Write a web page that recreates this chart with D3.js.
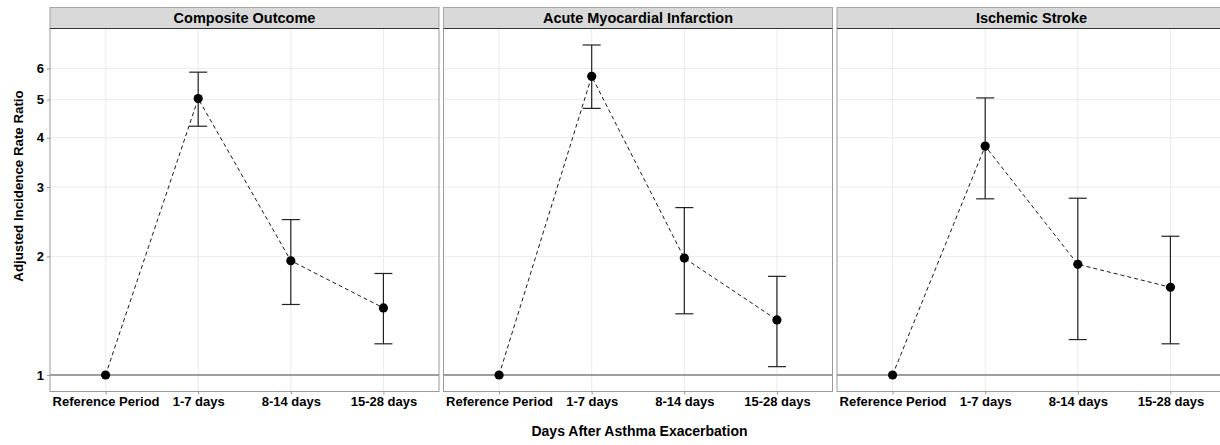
<!DOCTYPE html>
<html>
<head>
<meta charset="utf-8">
<script src="https://cdn.jsdelivr.net/npm/d3@7"></script>
<style>
  body { margin: 0; background: #fff; }
  text { font-family: 'Liberation Sans', Arial, sans-serif; font-weight: bold; fill: #000; }
</style>
</head>
<body>
<div id="chart"></div>
<script>
var categories = ['Reference Period', '1-7 days', '8-14 days', '15-28 days'];
var outcomes = ['Composite Outcome', 'Acute Myocardial Infarction', 'Ischemic Stroke'];

// rate ratios and 95% CI per outcome (reference period has no interval)
var compositeIRR = [1, 5.03, 1.95, 1.48];
var compositeLower = [null, 4.28, 1.51, 1.20];
var compositeUpper = [null, 5.87, 2.48, 1.81];

var amiIRR = [1, 5.73, 1.98, 1.38];
var amiLower = [null, 4.75, 1.43, 1.05];
var amiUpper = [null, 6.88, 2.66, 1.78];

var strokeIRR = [1, 3.81, 1.91, 1.67];
var strokeLower = [null, 2.80, 1.23, 1.20];
var strokeUpper = [null, 5.05, 2.81, 2.25];

var yTicks = [1, 2, 3, 4, 5, 6];

function buildPanel(irr, lower, upper) {
    return categories.map(function(c, i) {
        return { cat: c, irr: irr[i], lo: lower[i], hi: upper[i] };
    });
}

var panels = [
    buildPanel(compositeIRR, compositeLower, compositeUpper),
    buildPanel(amiIRR, amiLower, amiUpper),
    buildPanel(strokeIRR, strokeLower, strokeUpper)
];

var width = 1220, height = 445;
var panelLeft = 50, panelW = 389, panelGap = 4.5;
var stripTop = 7.5, panelTop = 28.5, panelBottom = 391.5;

var svg = d3.select('#chart').append('svg')
    .attr('width', width)
    .attr('height', height);

// shared log y scale, 5% expansion on the log range like ggplot
var allVals = [];
panels.forEach(function(p) {
    p.forEach(function(d) {
        allVals.push(d.irr);
        if (d.lo != null) allVals.push(d.lo, d.hi);
    });
});
var lmin = Math.log(d3.min(allVals)), lmax = Math.log(d3.max(allVals));
var pad = (lmax - lmin) * 0.05;
var y = d3.scaleLog()
    .domain([Math.exp(lmin - pad), Math.exp(lmax + pad)])
    .range([panelBottom, panelTop]);

var x = d3.scalePoint()
    .domain(categories)
    .range([0, panelW])
    .padding(0.6);

var line = d3.line()
    .x(function(d) { return x(d.cat); })
    .y(function(d) { return y(d.irr); });

panels.forEach(function(data, pi) {
    var x0 = panelLeft + pi * (panelW + panelGap);
    var g = svg.append('g').attr('transform', 'translate(' + x0 + ',0)');

    g.append('rect')
        .attr('x', 0).attr('y', panelTop)
        .attr('width', panelW).attr('height', panelBottom - panelTop)
        .attr('fill', '#fff');

    // grid
    g.selectAll('.hgrid').data(yTicks).enter().append('line')
        .attr('x1', 0).attr('x2', panelW)
        .attr('y1', function(d) { return y(d); })
        .attr('y2', function(d) { return y(d); })
        .attr('stroke', '#ebebeb').attr('stroke-width', 1);
    g.selectAll('.vgrid').data(categories).enter().append('line')
        .attr('x1', function(d) { return x(d); })
        .attr('x2', function(d) { return x(d); })
        .attr('y1', panelTop).attr('y2', panelBottom)
        .attr('stroke', '#ebebeb').attr('stroke-width', 1);

    // reference line at 1
    g.append('line')
        .attr('x1', 0).attr('x2', panelW)
        .attr('y1', y(1)).attr('y2', y(1))
        .attr('stroke', '#808080').attr('stroke-width', 1.6);

    // dashed connecting line
    g.append('path')
        .datum(data)
        .attr('d', line)
        .attr('fill', 'none')
        .attr('stroke', '#000')
        .attr('stroke-width', 0.9)
        .attr('stroke-dasharray', '4,3');

    // error bars
    var eb = g.selectAll('.eb').data(data.filter(function(d) { return d.lo != null; }))
        .enter().append('g');
    eb.append('line')
        .attr('x1', function(d) { return x(d.cat); })
        .attr('x2', function(d) { return x(d.cat); })
        .attr('y1', function(d) { return y(d.lo); })
        .attr('y2', function(d) { return y(d.hi); });
    eb.append('line')
        .attr('x1', function(d) { return x(d.cat) - 9; })
        .attr('x2', function(d) { return x(d.cat) + 9; })
        .attr('y1', function(d) { return y(d.lo); })
        .attr('y2', function(d) { return y(d.lo); });
    eb.append('line')
        .attr('x1', function(d) { return x(d.cat) - 9; })
        .attr('x2', function(d) { return x(d.cat) + 9; })
        .attr('y1', function(d) { return y(d.hi); })
        .attr('y2', function(d) { return y(d.hi); });
    eb.selectAll('line').attr('stroke', '#222').attr('stroke-width', 1.2);

    // points
    g.selectAll('.pt').data(data).enter().append('circle')
        .attr('cx', function(d) { return x(d.cat); })
        .attr('cy', function(d) { return y(d.irr); })
        .attr('r', 4.6)
        .attr('fill', '#000');

    // panel border
    g.append('rect')
        .attr('x', 0).attr('y', panelTop)
        .attr('width', panelW).attr('height', panelBottom - panelTop)
        .attr('fill', 'none').attr('stroke', '#9a9a9a').attr('stroke-width', 1);

    // strip
    g.append('rect')
        .attr('x', 0).attr('y', stripTop)
        .attr('width', panelW).attr('height', panelTop - stripTop)
        .attr('fill', '#d9d9d9').attr('stroke', '#a6a6a6').attr('stroke-width', 1);
    g.append('line')
        .attr('x1', 0).attr('x2', panelW)
        .attr('y1', panelTop).attr('y2', panelTop)
        .attr('stroke', '#333').attr('stroke-width', 1.2);
    g.append('text')
        .attr('x', panelW / 2).attr('y', 23)
        .attr('text-anchor', 'middle')
        .attr('font-size', '14.5px')
        .text(outcomes[pi]);

    // x axis
    var xAxis = d3.axisBottom(x).tickSize(3).tickPadding(2);
    var xa = g.append('g')
        .attr('transform', 'translate(0,' + panelBottom + ')')
        .call(xAxis);
    xa.select('.domain').remove();
    xa.selectAll('.tick line').attr('stroke', '#999');
    xa.selectAll('.tick text')
        .attr('font-size', '13px')
        .attr('font-family', "'Liberation Sans', Arial, sans-serif")
        .attr('font-weight', 'bold')
        .attr('fill', '#000');

    // y axis only on first panel
    if (pi === 0) {
        var yAxis = d3.axisLeft(y).tickValues(yTicks).tickFormat(d3.format('d')).tickSize(3).tickPadding(3);
        var ya = g.append('g').call(yAxis);
        ya.select('.domain').remove();
        ya.selectAll('.tick line').attr('stroke', '#999');
        ya.selectAll('.tick text')
            .attr('font-size', '13px')
            .attr('font-family', "'Liberation Sans', Arial, sans-serif")
            .attr('font-weight', 'bold')
            .attr('fill', '#000');
    }
});

// axis titles
svg.append('text')
    .attr('x', 639.5).attr('y', 435.5)
    .attr('text-anchor', 'middle')
    .attr('font-size', '14px')
    .text('Days After Asthma Exacerbation');

svg.append('text')
    .attr('transform', 'translate(22.5,186) rotate(-90)')
    .attr('text-anchor', 'middle')
    .attr('font-size', '13.3px')
    .text('Adjusted Incidence Rate Ratio');
</script>
</body>
</html>
